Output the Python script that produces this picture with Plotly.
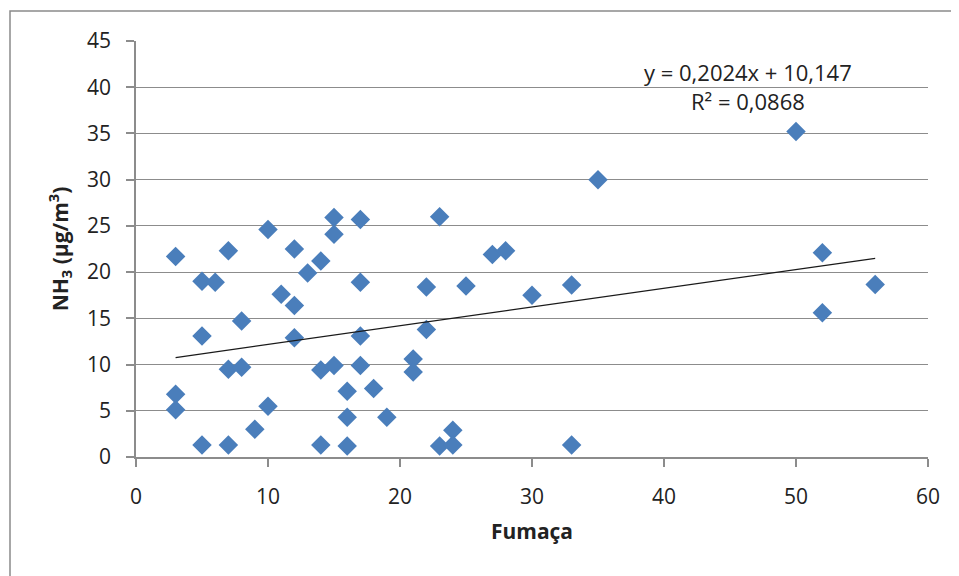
import plotly.graph_objects as go
import numpy as np

# Data
fumaca = [3, 3, 3, 5, 5, 5, 6, 7, 7, 7, 8, 8, 9, 10, 10, 11, 12, 12, 12, 13,
          14, 14, 14, 15, 15, 15, 16, 16, 16, 17, 17, 17, 17, 18, 19, 21, 21,
          22, 22, 23, 23, 24, 24, 25, 27, 28, 30, 33, 33, 35, 50, 52, 52, 56]
nh3 = [21.7, 6.8, 5.1, 19.0, 13.1, 1.3, 18.9, 22.3, 9.5, 1.3, 14.7, 9.7, 3.0,
       24.6, 5.5, 17.6, 22.5, 16.4, 12.9, 19.9, 21.2, 9.4, 1.3, 25.9, 24.1,
       9.9, 7.1, 4.3, 1.2, 25.7, 18.9, 13.1, 9.9, 7.4, 4.3, 10.6, 9.2, 18.4,
       13.8, 26.0, 1.2, 2.9, 1.3, 18.5, 21.9, 22.3, 17.5, 18.6, 1.3, 30.0,
       35.2, 22.1, 15.6, 18.65]

slope = 0.2024
intercept = 10.147
eq_text = "y = 0,2024x + 10,147"
r2_text = "R² = 0,0868"

x_ticks = [0, 10, 20, 30, 40, 50, 60]
y_ticks = [0, 5, 10, 15, 20, 25, 30, 35, 40, 45]

FONT = "'Open Sans', Lato, sans-serif"
GRID = "#8c8c8c"

fig = go.Figure()
fig.add_trace(go.Scatter(
    x=fumaca, y=nh3, mode="markers",
    marker=dict(symbol="diamond", size=15, color="#4a7ebb", line=dict(width=0)),
    showlegend=False, hoverinfo="x+y"))

tx = np.array([min(fumaca), max(fumaca)], dtype=float)
fig.add_trace(go.Scatter(
    x=tx, y=slope * tx + intercept, mode="lines",
    line=dict(color="#1a1a1a", width=1.2), showlegend=False, hoverinfo="skip"))

fig.add_annotation(x=46.4, y=41.7, xref="x", yref="y", text=eq_text,
                   showarrow=False, font=dict(family=FONT, size=22, color="#222"))
fig.add_annotation(x=46.4, y=38.55, xref="x", yref="y", text=r2_text,
                   showarrow=False, font=dict(family=FONT, size=22, color="#222"))

# outer chart frame (only left/top visible in reference)
fig.add_shape(type="rect", xref="paper", yref="paper",
              x0=(10 - 136) / 792, x1=(975 - 136) / 792,
              y0=(456 - 590) / 416, y1=(456 - 10) / 416,
              line=dict(color="#8a8a8a", width=1.5), fillcolor="rgba(0,0,0,0)")

fig.update_layout(
    width=951, height=568,
    margin=dict(l=128, r=31, t=33, b=119),
    paper_bgcolor="white", plot_bgcolor="white",
    font=dict(family=FONT, size=21, color="#222"),
    xaxis=dict(range=[0, 60], tickvals=x_ticks, showgrid=False, zeroline=False,
               showline=True, linecolor=GRID, linewidth=1.5,
               ticks="outside", ticklen=8, tickcolor=GRID, tickwidth=1.5,
               ticklabelstandoff=12, automargin=False,
               title=dict(text="<b>Fumaça</b>", font=dict(family=FONT, size=21),
                          standoff=15)),
    yaxis=dict(range=[0, 45], tickvals=y_ticks, showgrid=True, gridcolor=GRID,
               gridwidth=1.3, zeroline=False,
               showline=True, linecolor=GRID, linewidth=1.5,
               ticks="outside", ticklen=8, tickcolor=GRID, tickwidth=1.5,
               ticklabelstandoff=11, automargin=False,
               title=dict(text="<b>NH<sub>3</sub> (µg/m<sup>3</sup>)</b>",
                          font=dict(family=FONT, size=21), standoff=13)),
)

fig.write_html("out.html")
